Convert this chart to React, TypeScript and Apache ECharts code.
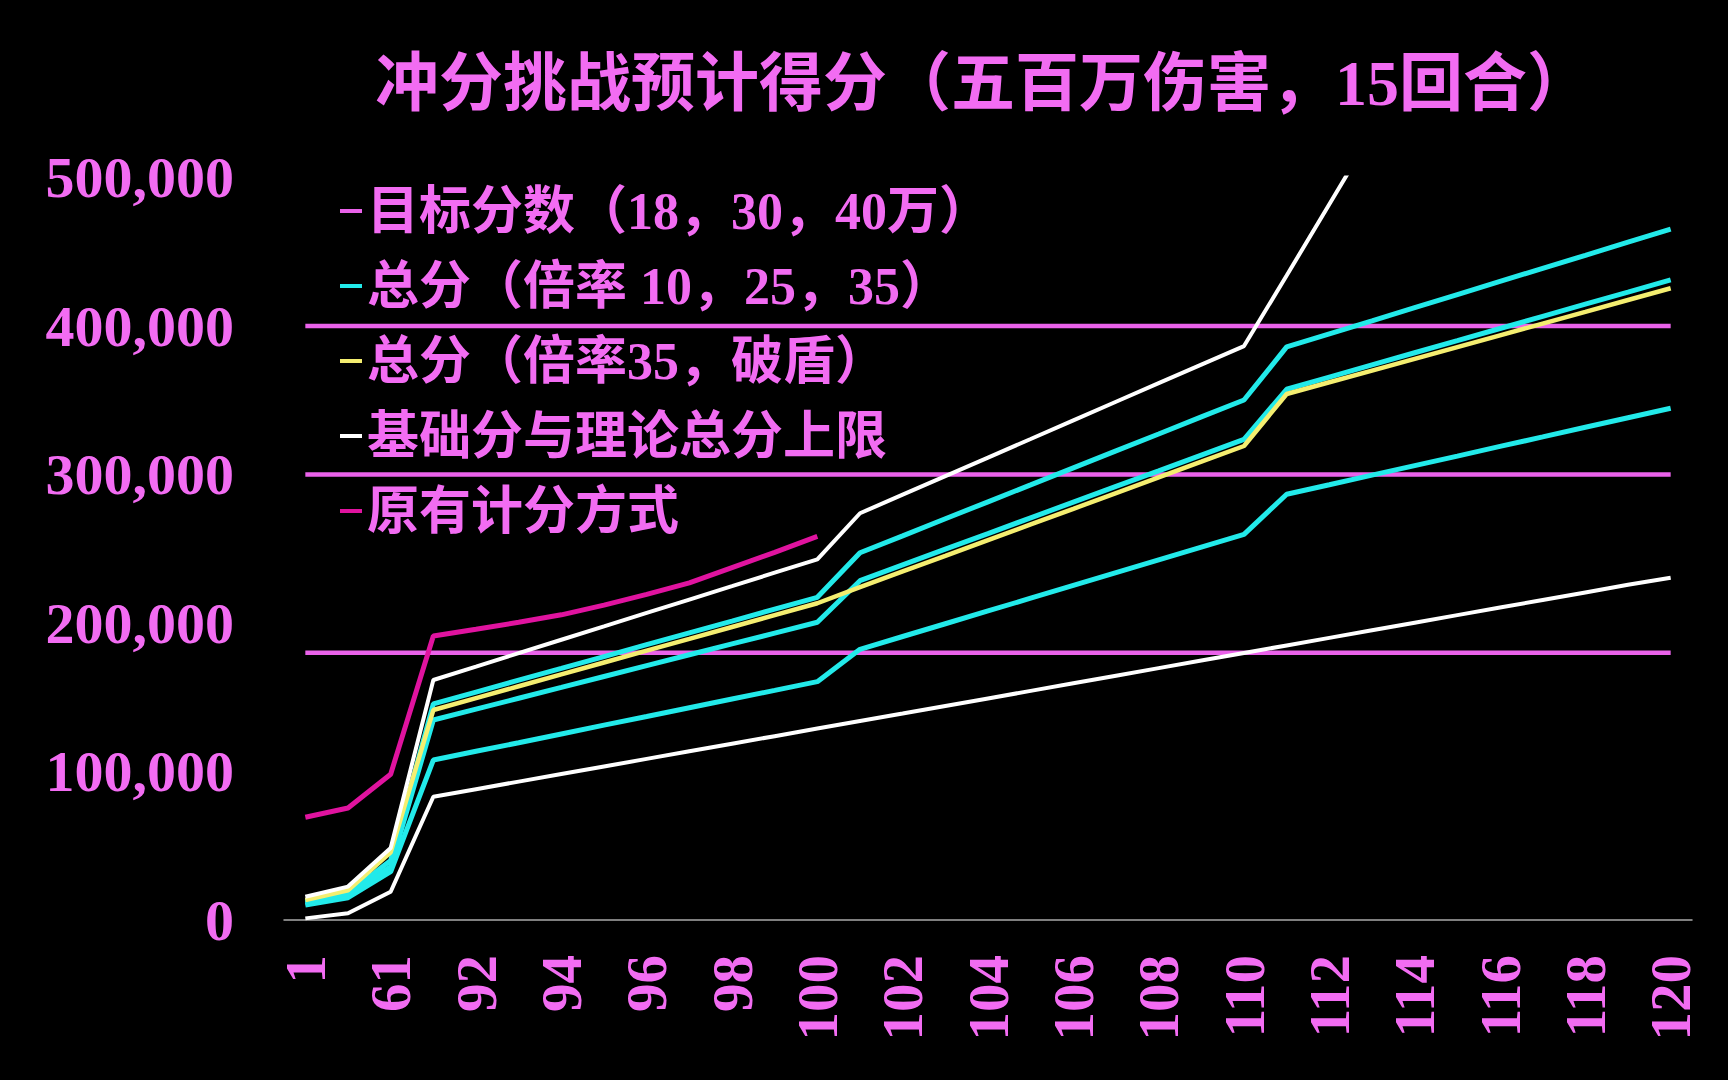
import React, { useEffect, useRef } from "react";
import * as echarts from "echarts";

const categories = [
  "1", "31", "61", "91", "92", "93", "94", "95", "96", "97", "98", "99", "100",
  "101", "102", "103", "104", "105", "106", "107", "108", "109", "110",
  "111", "112", "113", "114", "115", "116", "117", "118", "119", "120",
];

const targetScores = [180000, 300000, 400000];

const total10 = [
  10000, 15000, 32500,
  107700, 113600, 119400, 125300, 131200, 137000, 142900, 148800, 154600, 160500,
  182300, 190900, 199500, 208100, 216700, 225300, 233900, 242500, 251100, 259700,
  286700, 293100, 299600, 306000, 312400, 318900, 325300, 331800, 338200, 344600,
];

const total25 = [
  11500, 16500, 36000,
  134700, 142000, 149300, 156600, 164000, 171300, 178600, 185900, 193200, 200500,
  228500, 239100, 249700, 260200, 270800, 281400, 292000, 302500, 313100, 323700,
  357400, 365600, 373800, 382000, 390100, 398300, 406500, 414700, 422800, 431000,
];

const total35 = [
  12500, 18000, 40000,
  145500, 153500, 161500, 169400, 177400, 185400, 193400, 201300, 209300, 217300,
  247300, 258700, 270200, 281600, 293000, 304500, 315900, 327300, 338800, 350200,
  385900, 394700, 403500, 412400, 421200, 430000, 438800, 447600, 456500, 465300,
];

const total35Break = [
  13500, 20000, 45500,
  141400, 149400, 157400, 165400, 173400, 181400, 189300, 197300, 205300, 213300,
  224100, 234700, 245200, 255800, 266400, 276900, 287500, 298100, 308600, 319200,
  354200, 362100, 370000, 377900, 385800, 393700, 401600, 409500, 417500, 425400,
];

const baseScore = [
  1100, 4500, 19000,
  83000, 88100, 93200, 98300, 103400, 108500, 113600, 118700, 123800, 128900,
  134000, 139000, 144100, 149200, 154300, 159400, 164500, 169600, 174700, 179800,
  184900, 190000, 195100, 200200, 205300, 210400, 215500, 220600, 225700, 230500,
];

const maxScore = [
  15700, 22500, 48500,
  161600, 170600, 179700, 188700, 197700, 206800, 215800, 224800, 233900, 242900,
  273900, 286400, 298900, 311400, 323900, 336500, 349000, 361500, 374000, 386500,
  434000, 482000, 530000,
];

const originalScore = [
  69200, 75400, 98200,
  191200, 195800, 200500, 205500, 212000, 219300, 227000, 237300, 247600, 258300,
];

const yTicks = [0, 100000, 200000, 300000, 400000, 500000];

const names = {
  target: "目标分数（18，30，40万）",
  total: "总分（倍率 10，25，35）",
  brk: "总分（倍率35，破盾）",
  base: "基础分与理论总分上限",
  orig: "原有计分方式",
};

const PINK = "#f26cf2";
const TARGET = "#ea62ea";
const CYAN = "#22eaea";
const YELLOW = "#f4ee70";
const WHITE = "#ffffff";
const DEEP = "#e0139f";
const FONT = "'Liberation Serif', 'Noto Sans CJK SC', serif";

function fmt(v: number): string {
  return String(v).replace(/\B(?=(\d{3})+(?!\d))/g, ",");
}

export default function App() {
  const ref = useRef<HTMLDivElement>(null);

  useEffect(() => {
    if (!ref.current) return;
    const chart = echarts.init(ref.current, null, { renderer: "svg" });

    const line = (name: string, data: (number | null)[], color: string, width = 4) => ({
      type: "line",
      name,
      data,
      symbol: "none",
      showSymbol: false,
      lineStyle: { color, width },
      itemStyle: { color },
      emphasis: { disabled: true },
      clip: true,
    });

    const option = {
      animation: false,
      backgroundColor: "#000000",
      title: {
        text: "冲分挑战预计得分（五百万伤害，15回合）",
        left: 370,
        top: 46,
        textStyle: { color: PINK, fontSize: 64, fontWeight: "bold", fontFamily: FONT },
      },
      legend: {
        orient: "vertical",
        left: 335,
        top: 180,
        itemGap: 23,
        itemWidth: 22,
        itemHeight: 4,
        icon: "rect",
        data: [names.target, names.total, names.brk, names.base, names.orig],
        textStyle: { color: PINK, fontSize: 52, fontWeight: "bold", fontFamily: FONT },
      },
      grid: { left: 284, right: 36, top: 177.5, bottom: 160, containLabel: false },
      xAxis: {
        type: "category",
        data: categories,
        boundaryGap: true,
        axisLine: { show: true, lineStyle: { color: "#aaaaaa", width: 1.5 } },
        axisTick: { show: false },
        splitLine: { show: false },
        axisLabel: {
          interval: 1,
          rotate: 90,
          margin: 35,
          color: PINK,
          fontSize: 57,
          fontWeight: "bold",
          fontFamily: FONT,
        },
      },
      yAxis: {
        type: "value",
        min: yTicks[0],
        max: yTicks[yTicks.length - 1],
        interval: 100000,
        axisLine: { show: false },
        axisTick: { show: false },
        splitLine: { show: false },
        axisLabel: {
          margin: 50,
          color: PINK,
          fontSize: 58,
          fontWeight: "bold",
          fontFamily: FONT,
          formatter: (v: number) => fmt(v),
        },
      },
      series: [
        line(names.target, categories.map(() => targetScores[0]), TARGET, 4.5),
        line(names.target, categories.map(() => targetScores[1]), TARGET, 4.5),
        line(names.target, categories.map(() => targetScores[2]), TARGET, 4.5),
        line(names.total, total10, CYAN, 5),
        line(names.total, total25, CYAN, 5),
        line(names.total, total35, CYAN, 5),
        line(names.brk, total35Break, YELLOW, 4.5),
        line(names.base, baseScore, WHITE, 4),
        line(names.base, maxScore, WHITE, 4),
        line(names.orig, originalScore, DEEP, 5),
      ],
    };

    chart.setOption(option as any);
    return () => chart.dispose();
  }, []);

  return (
    <div
      ref={ref}
      style={{ position: "fixed", left: 0, top: 0, width: 1728, height: 1080, background: "#000" }}
    />
  );
}
